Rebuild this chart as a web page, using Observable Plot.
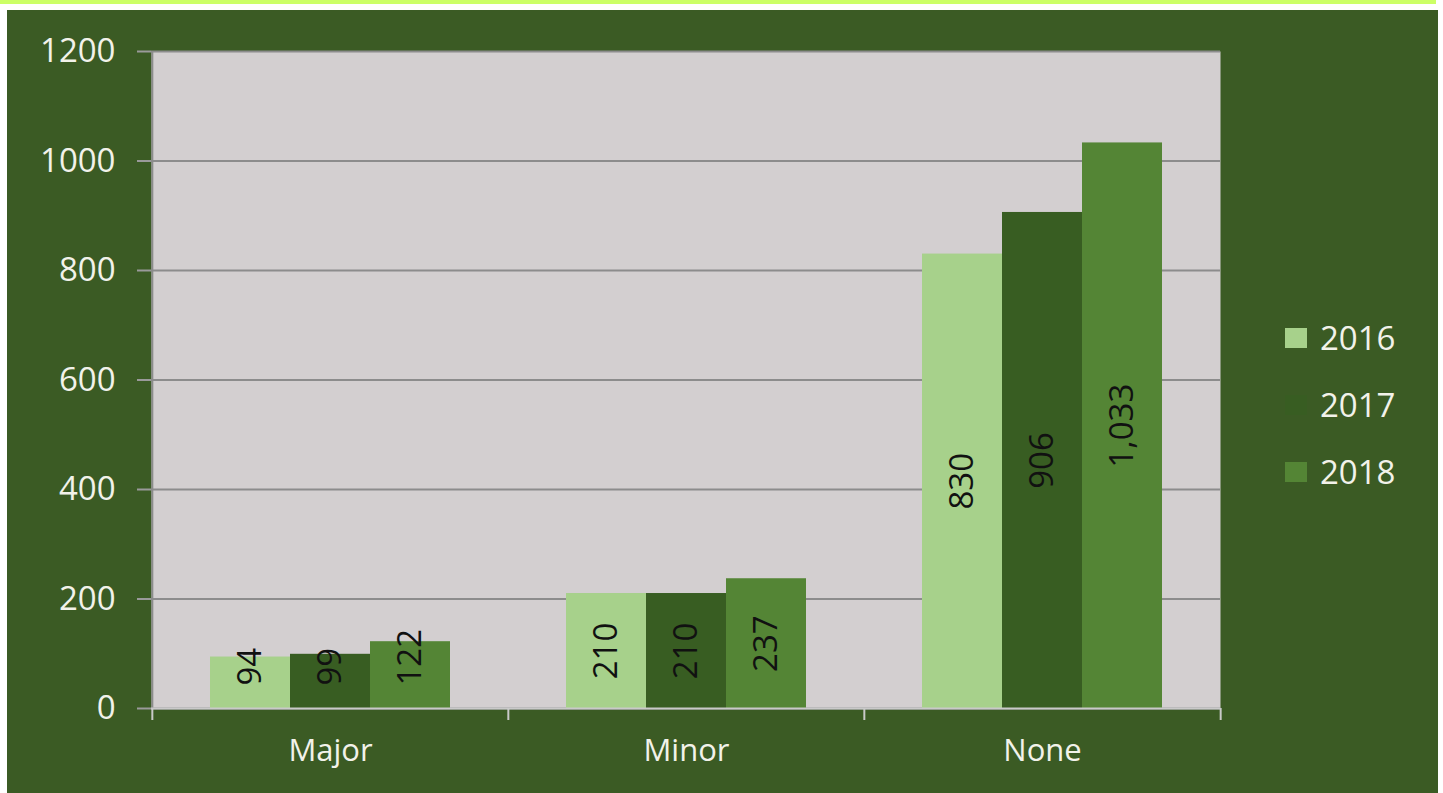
<!DOCTYPE html>
<html>
<head>
<meta charset="utf-8">
<script src="https://cdn.jsdelivr.net/npm/d3@7"></script>
<script src="https://cdn.jsdelivr.net/npm/@observablehq/plot@0.6"></script>
<style>
  html, body { margin: 0; padding: 0; background: #ffffff; width: 1443px; height: 793px; overflow: hidden; }
  #strip { position: absolute; left: 0; top: 0; width: 1436px; height: 4px; background: #ccff66; }
  #panel { position: absolute; left: 7px; top: 10px; width: 1431px; height: 783px; background: #3b5b24; font-family: "Open Sans", sans-serif; }
  #chart { position: absolute; left: 0; top: 0; }
  #legend { position: absolute; left: 1278px; top: 300px; }
  .item { position: relative; height: 67px; }
  .sw { position: absolute; left: 0; top: 18px; width: 22px; height: 20px; }
  .lab { position: absolute; left: 35px; top: 0; font-size: 33px; color: #f2f2ea; line-height: 56px; }
</style>
</head>
<body>
<div id="strip"></div>
<div id="panel">
  <div id="chart"></div>
  <div id="legend"></div>
</div>
<script>
const categories = ["Major", "Minor", "None"];
const years = ["2016", "2017", "2018"];
const values2016 = [94, 210, 830];
const values2017 = [99, 210, 906];
const values2018 = [122, 237, 1033];
const yTicks = [0, 200, 400, 600, 800, 1000, 1200];
const yearColors = ["#a7d18b", "#385d22", "#548535"];

const series = [values2016, values2017, values2018];
const data = [];
years.forEach((yr, i) => categories.forEach((c, j) => data.push({category: c, year: yr, value: series[i][j], yi: i})));

const W = 1431, H = 783;
const mL = 144, mR = 218, mT = 41, mB = 85;
const plotW = W - mL - mR, plotH = H - mT - mB;
const step = plotW / categories.length;
const barW = 80;
const pInner = 1 - barW / step;
const k = plotH / 1200;
const labelFont = 33;
const fmt = d3.format(",");
const labelY = d => {
  const half = fmt(d.value).length * 0.57 * labelFont / 2;
  return Math.max(d.value / 2, (23 + half) / k);
};

const marks = [
  Plot.frame({fill: "#d3cfd0"}),
  Plot.gridY(yTicks, {stroke: "#8c8c8c", strokeWidth: 2, strokeOpacity: 1}),
  Plot.ruleX([categories[0]], {stroke: "#8c8c8c", strokeWidth: 2, dx: -step / 2}),
  Plot.axisY({ticks: yTicks, tickFormat: d3.format("d"), tickSize: 14, tickPadding: 22, stroke: "#9a9a9a", fill: "#f2f2ea", fontSize: 33, strokeWidth: 2, label: null}),
  Plot.axisX({tickSize: 0, tickPadding: 30, fill: "#f2f2ea", fontSize: 31, label: null})
];
years.forEach((yr, i) => {
  marks.push(Plot.barY(data.filter(d => d.year === yr), {x: "category", y: "value", fill: yearColors[i], dx: (i - 1) * barW}));
});
years.forEach((yr, i) => {
  marks.push(Plot.text(data.filter(d => d.year === yr), {x: "category", y: labelY, text: d => fmt(d.value), rotate: -90, fontSize: labelFont, fill: "#111", dx: (i - 1) * barW}));
});
marks.push(Plot.ruleY([0], {stroke: "#c9c9c9", strokeWidth: 2}));
marks.push(Plot.ruleX(categories, {y1: 0, y2: 0, insetBottom: -12, stroke: "#c9c9c9", strokeWidth: 2, dx: -step / 2}));
marks.push(Plot.ruleX([categories[categories.length - 1]], {y1: 0, y2: 0, insetBottom: -12, stroke: "#c9c9c9", strokeWidth: 2, dx: step / 2}));

const chart = Plot.plot({
  width: W, height: H,
  marginLeft: mL, marginRight: mR, marginTop: mT, marginBottom: mB,
  style: {background: "transparent", fontFamily: "Open Sans, sans-serif", overflow: "visible"},
  x: {domain: categories, paddingInner: pInner, paddingOuter: pInner / 2, axis: null},
  y: {domain: [0, 1200], axis: null},
  marks
});
document.getElementById("chart").appendChild(chart);

const legend = document.getElementById("legend");
years.forEach((yr, i) => {
  const item = document.createElement("div");
  item.className = "item";
  item.innerHTML = `<div class="sw" style="background:${yearColors[i]}"></div><div class="lab">${yr}</div>`;
  legend.appendChild(item);
});
</script>
</body>
</html>
